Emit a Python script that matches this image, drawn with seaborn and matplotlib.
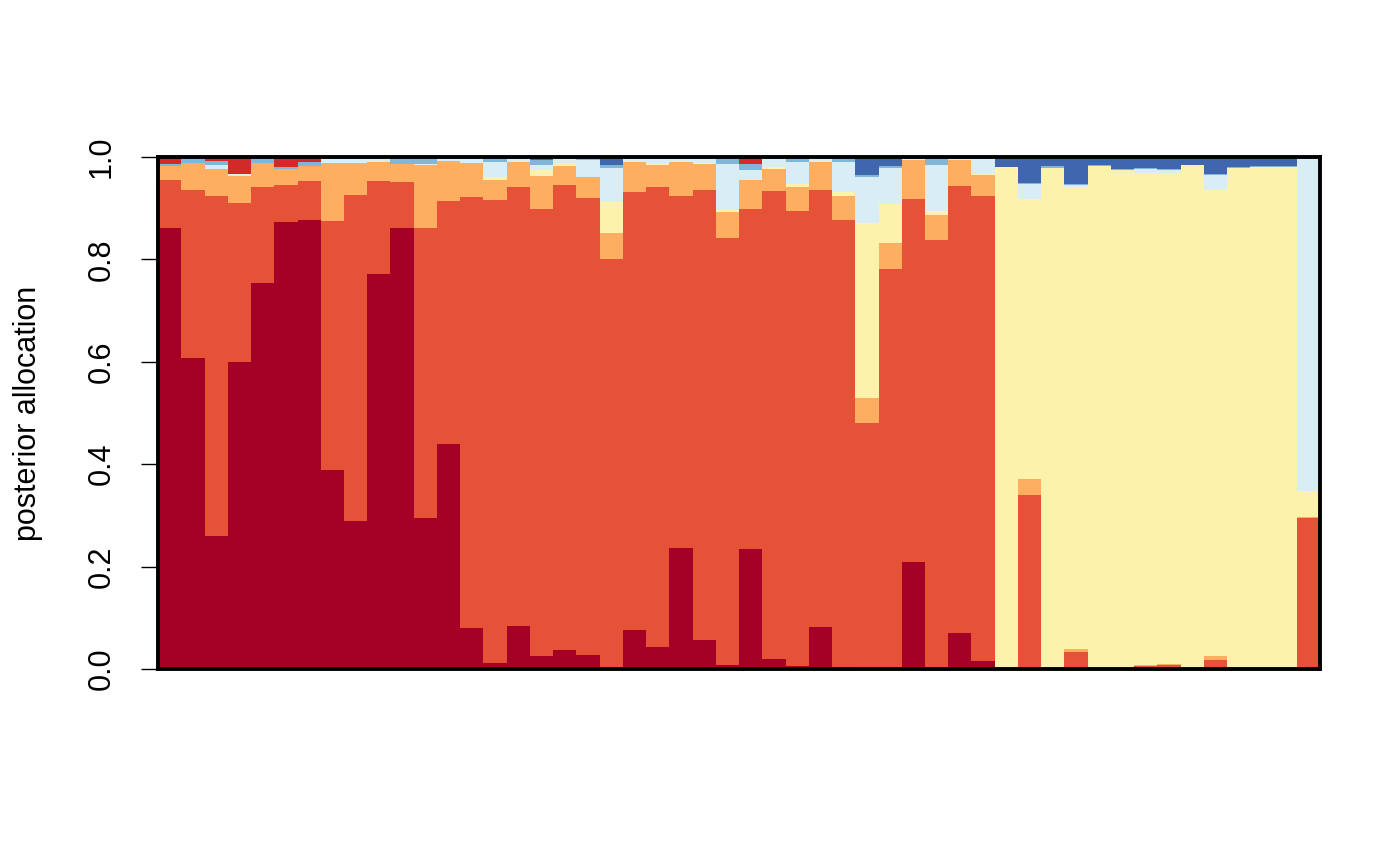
import numpy as np
import pandas as pd
import matplotlib
matplotlib.use("Agg")
import matplotlib.pyplot as plt
import seaborn as sns

# ---- data: posterior allocation of 50 samples to 8 components ----
dark_red = [.861, .607, .260, .600, .754, .873, .877, .389, .289, .771,
            .861, .295, .440, .080, .012, .084, .025, .037, .027, 0,
            .076, .043, .237, .057, .008, .235, .020, .006, .082, .004,
            0, 0, .209, .004, .070, .016, 0, 0, 0, 0,
            0, 0, 0, 0, 0, 0, 0, 0, 0, 0]
red_orange = [.094, .329, .664, .310, .187, .072, .076, .486, .636, .182,
              .090, .566, .474, .841, .904, .857, .873, .908, .893, .800,
              .856, .898, .686, .878, .833, .663, .913, .888, .853, .872,
              .481, .781, .709, .834, .873, .907, 0, .340, 0, .033,
              0, 0, .005, .007, 0, .018, 0, 0, 0, .295]
orange = [.027, .053, .053, .053, .047, .031, .029, .113, .064, .037,
          .035, .123, .078, .068, .039, .049, .064, .037, .041, .051,
          .059, .043, .068, .051, .051, .057, .043, .047, .055, .047,
          .049, .051, .076, .049, .051, .041, 0, .031, 0, .006,
          0, 0, .003, .002, 0, .008, 0, 0, 0, .002]
yellow = [0, 0, 0, 0, 0, 0, 0, 0, 0, 0,
          0, 0, 0, 0, .006, 0, .012, .004, 0, .061,
          0, .002, 0, .002, .004, 0, .004, .006, 0, .008,
          .342, .076, 0, .008, 0, .002, .980, .547, .978, .902,
          .982, .975, .961, .960, .984, .909, .978, .981, .980, .051]
light_blue = [0, 0, .008, .004, 0, 0, 0, .012, .011, .010,
              0, .002, .008, .011, .029, .010, .010, .014, .033, .066,
              .009, .014, .009, .012, .090, .020, .020, .043, .010, .059,
              .088, .070, .006, .090, .006, .034, 0, .029, 0, .004,
              0, 0, .008, .006, 0, .029, 0, 0, 0, .652]
mid_blue = [.004, .011, .007, 0, .012, .004, .008, 0, 0, 0,
            .014, .014, 0, 0, .010, 0, .010, 0, .006, .006,
            0, 0, 0, 0, .014, .012, 0, .010, 0, .010,
            .004, .004, 0, .015, 0, 0, 0, .003, .004, .003,
            .002, .002, .002, .002, 0, .002, .002, .002, .002, 0]
dark_blue = [0, 0, 0, 0, 0, 0, 0, 0, 0, 0,
             0, 0, 0, 0, 0, 0, .006, 0, 0, .016,
             0, 0, 0, 0, 0, 0, 0, 0, 0, 0,
             .036, .018, 0, 0, 0, 0, .020, .050, .018, .052,
             .016, .023, .021, .023, .016, .034, .020, .017, .018, 0]
bright_red = [.014, 0, .008, .033, 0, .020, .010, 0, 0, 0,
              0, 0, 0, 0, 0, 0, 0, 0, 0, 0,
              0, 0, 0, 0, 0, .013, 0, 0, 0, 0,
              0, 0, 0, 0, 0, 0, 0, 0, 0, 0,
              0, 0, 0, 0, 0, 0, 0, 0, 0, 0]

components = ["c1", "c2", "c3", "c4", "c5", "c6", "c7", "c8"]
series = [dark_red, red_orange, orange, yellow, light_blue, mid_blue, dark_blue, bright_red]
colors = ["#A50026", "#E65238", "#FDAE61", "#FDF2AC", "#D9EEF4", "#80B6D8", "#4066AD", "#D32A27"]
ytick_vals = [0.0, 0.2, 0.4, 0.6, 0.8, 1.0]
ytick_labels = ["0.0", "0.2", "0.4", "0.6", "0.8", "1.0"]
ylabel = "posterior allocation"

n = len(dark_red)
rows = []
for comp, vals in zip(components, series):
    for i, v in enumerate(vals):
        rows.append({"sample": i + 0.5, "value": v, "component": comp})
df = pd.DataFrame(rows)

sns.set_style("white")
plt.rcParams["font.family"] = ["Liberation Sans", "DejaVu Sans"]
plt.rcParams["text.color"] = "black"
plt.rcParams["axes.labelcolor"] = "black"

fig = plt.figure(figsize=(14, 8.66), dpi=100)
ax = fig.add_axes([0.1129, 0.2275, 0.83, 0.5912])

# seaborn stacks the first hue level on top -> reverse order so c1 is at bottom
sns.histplot(data=df, x="sample", weights="value", hue="component",
             hue_order=components[::-1],
             palette=dict(zip(components, colors)),
             bins=n, binrange=(0, n), multiple="stack", element="bars",
             shrink=1, alpha=1, linewidth=0, edgecolor="none",
             legend=False, ax=ax)

ax.set_xlim(0, n)
ax.set_ylim(0, 1)
ax.set_xticks([])
ax.set_xlabel("")
ax.set_yticks(ytick_vals)
ax.set_yticklabels(ytick_labels, rotation=90, va="center", fontsize=22)
ax.tick_params(axis="y", direction="out", length=12, width=1, pad=18,
               left=True, colors="black")
ax.set_ylabel(ylabel, fontsize=22, labelpad=31, color="black")
for s in ax.spines.values():
    s.set_visible(True)
    s.set_color("black")
    s.set_linewidth(2.8)
ax.grid(False)

fig.savefig("out.png", dpi=100, facecolor="white")
